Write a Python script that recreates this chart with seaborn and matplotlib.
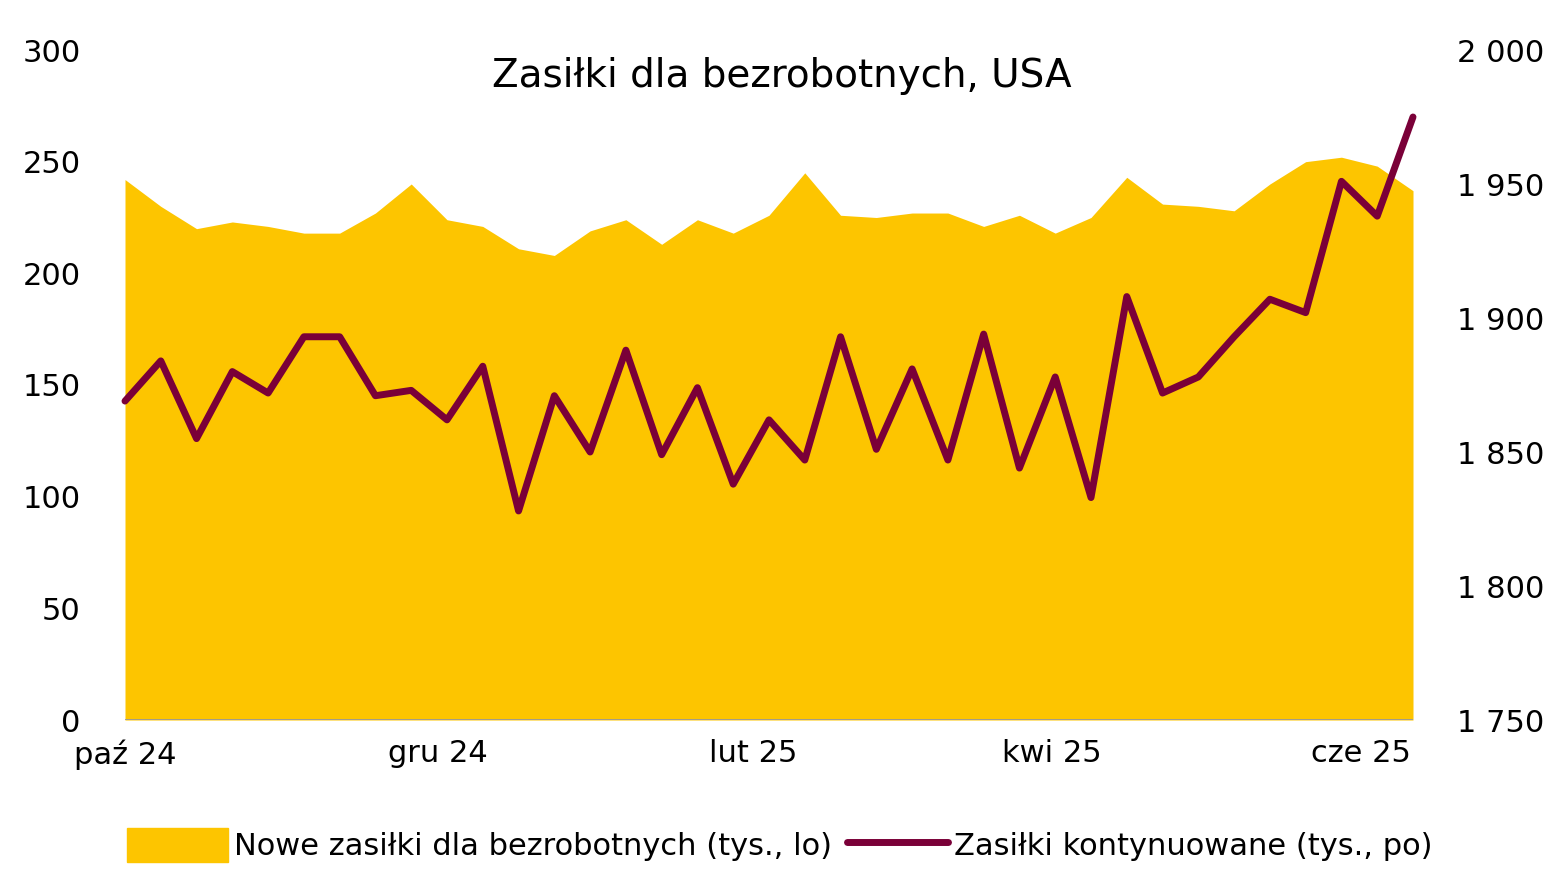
import numpy as np
import pandas as pd
import seaborn as sns
from matplotlib import pyplot as plt
from matplotlib.patches import Patch
from matplotlib.lines import Line2D

initial = [242, 230, 220, 223, 221, 218, 218, 227, 240, 224, 221, 211, 208, 219, 224, 213,
           224, 218, 226, 245, 226, 225, 227, 227, 221, 226, 218, 225, 243, 231, 230, 228,
           240, 250, 252, 248, 237]
continuing = [1869, 1884, 1855, 1880, 1872, 1893, 1893, 1871, 1873, 1862, 1882, 1828, 1871,
              1850, 1888, 1849, 1874, 1838, 1862, 1847, 1893, 1851, 1881, 1847, 1894, 1844,
              1878, 1833, 1908, 1872, 1878, 1893, 1907, 1902, 1951, 1938, 1975]
tick_pos = [0, 8.75, 17.55, 25.9, 34.55]
tick_labels = ["paź 24", "gru 24", "lut 25", "kwi 25", "cze 25"]

df = pd.DataFrame({"i": np.arange(len(initial)), "initial": initial, "continuing": continuing})

sns.set_style("white")
plt.rcParams['font.family'] = ['DejaVu Sans']
plt.rcParams['text.color'] = 'black'
plt.rcParams['xtick.color'] = 'black'
plt.rcParams['ytick.color'] = 'black'
yellow = "#FDC500"
maroon = "#7A0038"

fig = plt.figure(figsize=(15.6, 8.93), dpi=100)
ax = fig.add_axes([125/1560, 1-720/893, (1413-125)/1560, 670/893])
ax.fill_between(df["i"], 0, df["initial"], color=yellow, lw=0)
ax.axhline(0, color="#999999", lw=2)
ax.set_ylim(0, 300)
ax.set_xlim(0, len(initial) - 1)
ax.set_yticks(range(0, 301, 50))
ax.set_xticks(tick_pos)
ax.set_xticklabels(tick_labels)
ax.tick_params(labelsize=22, length=0, pad=14)
ax.tick_params(axis="y", pad=32)

ax2 = ax.twinx()
sns.lineplot(data=df, x="i", y="continuing", ax=ax2, color=maroon, lw=5)
for ln in ax2.lines:
    ln.set_clip_on(False)
ax2.set_ylim(1750, 2000)
ax2.set_yticks(range(1750, 2001, 50))
ax2.set_yticklabels([f"{v // 1000} {v % 1000:03d}" for v in range(1750, 2001, 50)])
ax2.tick_params(labelsize=22, length=0, pad=32)
ax2.set_xlabel("")
ax2.set_ylabel("")
for a in (ax, ax2):
    for s in a.spines.values():
        s.set_visible(False)

ax.text(0.51, 0.99, "Zasiłki dla bezrobotnych, USA", transform=ax.transAxes,
        ha="center", va="top", fontsize=28)

handles = [Patch(color=yellow), Line2D([], [], color=maroon, lw=5)]
fig.legend(handles, ["Nowe zasiłki dla bezrobotnych (tys., lo)", "Zasiłki kontynuowane (tys., po)"],
           loc="center", bbox_to_anchor=(0.5, 1-845/893), ncol=2, frameon=False, fontsize=22,
           handlelength=3.3, handleheight=1.3, columnspacing=0.5, handletextpad=0.2)
fig.savefig("out.png")
